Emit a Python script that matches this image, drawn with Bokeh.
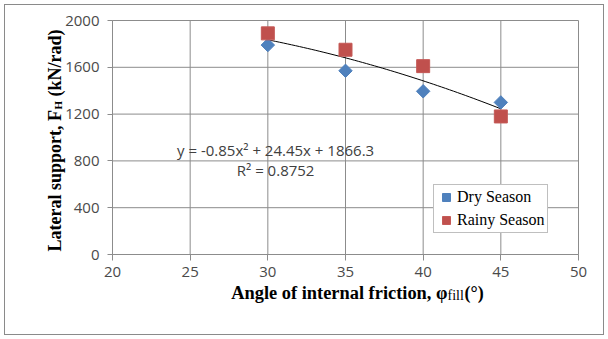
import numpy as np
from bokeh.plotting import figure
from bokeh.models import Label, Legend, LegendItem, FixedTicker, ColumnDataSource
from bokeh.embed import file_html
from bokeh.resources import INLINE

# ---- data ----
angles = [30, 35, 40, 45]
dry_season = [1790, 1570, 1395, 1300]
rainy_season = [1890, 1750, 1610, 1180]
trend_coef = [-0.85, 24.45, 1866.3]   # y = a x^2 + b x + c (as printed on chart)
trend_range = [30, 45]
x_ticks = [20, 25, 30, 35, 40, 45, 50]
y_ticks = [0, 400, 800, 1200, 1600, 2000]
equation_text = "y = -0.85x\u00b2 + 24.45x + 1866.3"
r2_text = "R\u00b2 = 0.8752"

# ---- layout (pixels) ----
W, H = 608, 339
PL, PR, PT, PB = 112, 578, 20, 254          # plot-area box inside the canvas
X0, X1, Y0, Y1 = 20, 50, 0, 2000            # axis limits of the plot area
sx_ = (PR - PL) / (X1 - X0)
sy_ = (PB - PT) / (Y1 - Y0)
x_start, x_end = X0 - PL / sx_, X1 + (W - PR) / sx_
y_start, y_end = Y0 - (H - PB) / sy_, Y1 + PT / sy_

p = figure(width=W, height=H, output_backend="svg", toolbar_location=None,
           x_range=(x_start, x_end), y_range=(y_start, y_end),
           min_border=0, min_border_left=0, min_border_right=0,
           min_border_top=0, min_border_bottom=0,
           background_fill_color="white", background_fill_alpha=0,
           border_fill_color="white", border_fill_alpha=0)
p.outline_line_color = None
p.styles = {"background-color": "white",
            "box-shadow": "inset 0 0 0 4px white, inset 0 0 0 5px #8a8a8a"}
p.grid.visible = False

grid_col = "#8c8c8c"
xax, yax = p.xaxis[0], p.yaxis[0]
xax.fixed_location = Y0
yax.fixed_location = X0
xax.bounds = (X0, X1)
yax.bounds = (Y0, Y1)
for ax in (xax, yax):
    ax.axis_line_color = grid_col
    ax.major_tick_line_color = grid_col
    ax.minor_tick_line_color = None
    ax.major_tick_in = 0
    ax.major_label_text_font = "Open Sans"
    ax.major_label_text_font_size = "15px"
    ax.major_label_text_color = "#4a4a4a"
xax.ticker = FixedTicker(ticks=x_ticks)
yax.ticker = FixedTicker(ticks=y_ticks)
xax.major_tick_out = 6
yax.major_tick_out = 5
xax.major_label_standoff = 6
yax.major_label_standoff = 8

# gridlines limited to the plot-area box (they also form its top/right border)
p.segment(x0=x_ticks, y0=[Y0] * len(x_ticks), x1=x_ticks, y1=[Y1] * len(x_ticks),
          line_color=grid_col, line_width=1)
p.segment(x0=[X0] * len(y_ticks), y0=y_ticks, x1=[X1] * len(y_ticks), y1=y_ticks,
          line_color=grid_col, line_width=1)

# trend line
tx = np.linspace(trend_range[0], trend_range[1], 60)
ty = np.polyval(trend_coef, tx)
p.line(tx, ty, line_color="black", line_width=1)

src_dry = ColumnDataSource(dict(x=angles, y=dry_season))
src_rainy = ColumnDataSource(dict(x=angles, y=rainy_season))
r_dry = p.scatter("x", "y", source=src_dry, marker="square", angle=np.pi / 4, size=9.5,
                  fill_color="#4F81BD", line_color="#4F81BD")
r_rainy = p.scatter("x", "y", source=src_rainy, marker="square", size=13,
                    fill_color="#C0504D", line_color="#C55A57")

legend = Legend(items=[LegendItem(label="Dry Season", renderers=[r_dry]),
                       LegendItem(label="Rainy Season", renderers=[r_rainy])],
                location=(433, H - 233))
legend.label_text_font = "'Liberation Serif'"
legend.label_text_font_size = "16px"
legend.label_text_color = "black"
legend.border_line_color = "#808080"
legend.border_line_width = 1
legend.background_fill_color = "white"
legend.background_fill_alpha = 1
legend.padding = 2
legend.spacing = 3
legend.margin = 0
legend.glyph_width = 20
legend.glyph_height = 20
legend.label_height = 20
legend.label_standoff = 1
p.add_layout(legend, "center")

# trendline equation (data units)
p.add_layout(Label(x=30.5, y=889, text=equation_text, text_align="center",
                   text_baseline="alphabetic", text_font="Open Sans",
                   text_font_size="15px", text_color="#404040"))
p.add_layout(Label(x=30.5, y=718, text=r2_text, text_align="center",
                   text_baseline="alphabetic", text_font="Open Sans",
                   text_font_size="15px", text_color="#404040"))

# axis title pieces placed at canvas pixel positions (converted to data units)
def lab(px, py, **kw):
    base = dict(x=X0 + (px - PL) / sx_, y=Y0 + (PB - py) / sy_,
                text_font="Liberation Serif", text_color="black",
                text_baseline="alphabetic")
    base.update(kw)
    p.add_layout(Label(**base))

lab(447, 292, text="Angle of internal friction, \u03c6", text_align="right",
    text_font_size="18.4px", text_font_style="bold")
lab(447, 295, text="fill", text_align="left", text_font_size="14px")
lab(464, 292, text="(\u00b0)", text_align="left", text_font_size="18px",
    text_font_style="bold")

lab(54, 251, text="Lateral support, F", text_align="left", angle=np.pi / 2,
    text_font_size="18px", text_font_style="bold")
lab(57, 109, text="H", text_align="left", angle=np.pi / 2,
    text_font_size="11px", text_font_style="bold")
lab(54, 96, text="(kN/rad)", text_align="left", angle=np.pi / 2,
    text_font_size="18px", text_font_style="bold")

open("out.html", "w").write(file_html(p, INLINE))
